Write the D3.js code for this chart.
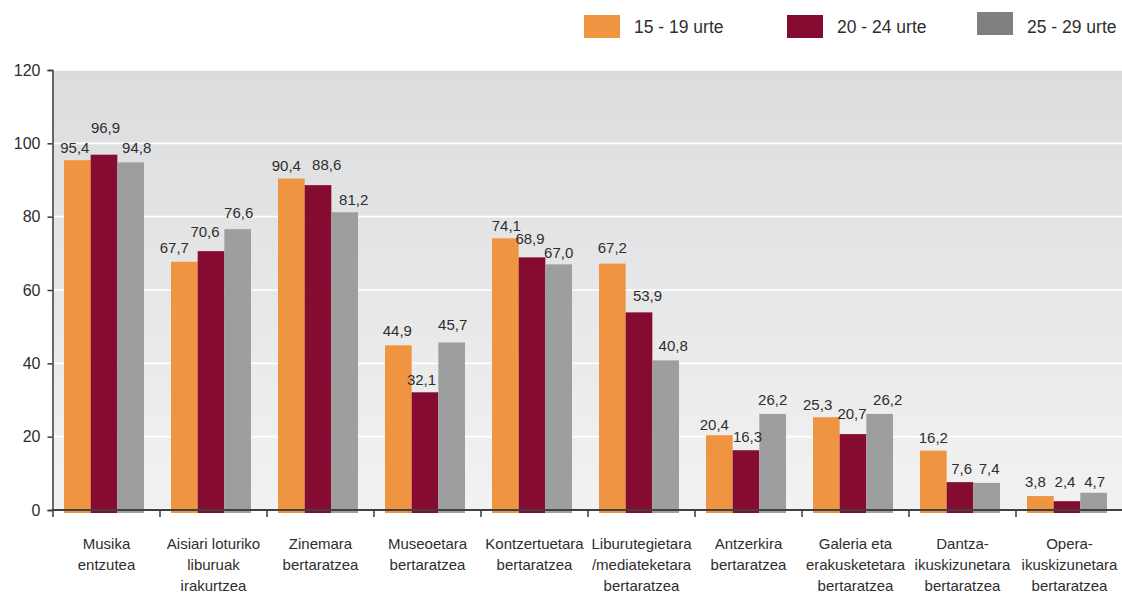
<!DOCTYPE html>
<html><head><meta charset="utf-8">
<script src="https://cdn.jsdelivr.net/npm/d3@7"></script>
<style>body{margin:0;background:#fff}svg{display:block;font-family:"Liberation Sans",Arial,sans-serif}</style>
</head><body><svg id="c" width="1122" height="594"></svg>
<script>
// ---- data ----
const categories = [
  "Musika\nentzutea",
  "Aisiari loturiko\nliburuak\nirakurtzea",
  "Zinemara\nbertaratzea",
  "Museoetara\nbertaratzea",
  "Kontzertuetara\nbertaratzea",
  "Liburutegietara\n/mediateketara\nbertaratzea",
  "Antzerkira\nbertaratzea",
  "Galeria eta\nerakusketetara\nbertaratzea",
  "Dantza-\nikuskizunetara\nbertaratzea",
  "Opera-\nikuskizunetara\nbertaratzea"
];
const seriesNames = ["15 - 19 urte", "20 - 24 urte", "25 - 29 urte"];
const values15_19 = [95.4, 67.7, 90.4, 44.9, 74.1, 67.2, 20.4, 25.3, 16.2, 3.8];
const values20_24 = [96.9, 70.6, 88.6, 32.1, 68.9, 53.9, 16.3, 20.7, 7.6, 2.4];
const values25_29 = [94.8, 76.6, 81.2, 45.7, 67.0, 40.8, 26.2, 26.2, 7.4, 4.7];
const yTicks = [0, 20, 40, 60, 80, 100, 120];

// ---- style / layout (not data) ----
const barColors = ["#ef9441", "#860b30", "#9d9ea0"];
const legendColors = ["#f09643", "#860b30", "#808080"];
const labelDx = [
  [-2.5, -10, -5, -1, 1, 0, -5, -8.7, 0, -5],
  [1.5, -6, 8.7, -3.5, -2, 8.5, 1.5, -1, 1.7, -2],
  [6, 1, 9, 1, 0, 7.5, 0, 8, 2.5, 1]
];
const labelLift = [
  [0, 2, 1, 2, 0, 4, -2, 0, 1, 2],
  [15, 7, 8, 0, 6, 4, 1, 8, 1, 7],
  [2, 4, 0, 5, -1, 2, 2, 2, 2, -1]
];

const allValues = [values15_19, values20_24, values25_29];
const svg = d3.select("#c");
const pLeft = 53, pRight = 1123, pTop = 70, pBottom = 510;

const x = d3.scaleBand().domain(categories).range([pLeft, pRight]).padding(0);
const inner = d3.scaleBand().domain(seriesNames).range([11, 91]).padding(0);
const y = d3.scaleLinear().domain([0, 120]).range([pBottom, pTop]);

// background gradient
const defs = svg.append("defs");
const grad = defs.append("linearGradient").attr("id", "bg").attr("x1", 0).attr("y1", 0).attr("x2", 0).attr("y2", 1);
grad.append("stop").attr("offset", "0%").attr("stop-color", "#dbdcde");
grad.append("stop").attr("offset", "100%").attr("stop-color", "#f2f2f2");
svg.append("rect").attr("x", pLeft).attr("y", pTop).attr("width", pRight - pLeft).attr("height", pBottom - pTop).attr("fill", "url(#bg)");

// gridlines
svg.append("g").selectAll("line").data(yTicks.filter(d => d > 0)).join("line")
  .attr("x1", pLeft).attr("x2", pRight).attr("y1", d => y(d)).attr("y2", d => y(d))
  .attr("stroke", "#ffffff").attr("stroke-width", 1.6);

// bars
const rows = [];
categories.forEach((c, i) => seriesNames.forEach((s, j) => rows.push({c, s, i, j, v: allValues[j][i]})));
svg.append("g").selectAll("rect").data(rows).join("rect")
  .attr("x", d => x(d.c) + inner(d.s))
  .attr("width", inner.bandwidth())
  .attr("y", d => y(d.v))
  .attr("height", d => y(0) - y(d.v) + 3)
  .attr("fill", d => barColors[d.j]);

// value labels
const fmt = v => d3.format(".1f")(v).replace(".", ",");
svg.append("g").selectAll("text").data(rows).join("text")
  .attr("x", d => x(d.c) + inner(d.s) + inner.bandwidth() / 2 + labelDx[d.j][d.i])
  .attr("y", d => y(d.v) - 7 - labelLift[d.j][d.i])
  .attr("text-anchor", "middle").attr("font-size", 15).attr("fill", "#2e2e2e")
  .text(d => fmt(d.v));

// y axis
const yAxis = svg.append("g").attr("transform", `translate(${pLeft - 0.5},0)`)
  .call(d3.axisLeft(y).tickValues(yTicks).tickSize(5).tickPadding(7).tickFormat(d3.format("d")));
yAxis.select(".domain").attr("stroke", "#3a3a3a").attr("stroke-width", 1.5);
yAxis.selectAll(".tick line").attr("stroke", "#3a3a3a").attr("stroke-width", 1.5);
yAxis.selectAll(".tick text").attr("font-size", 16).attr("fill", "#2e2e2e").attr("font-family", "Liberation Sans, Arial, sans-serif");

// x axis baseline and ticks
svg.append("line").attr("x1", pLeft - 1).attr("x2", pRight).attr("y1", y(0)).attr("y2", y(0))
  .attr("stroke", "#404040").attr("stroke-width", 2);
svg.append("g").selectAll("line").data(categories).join("line")
  .attr("x1", d => x(d)).attr("x2", d => x(d)).attr("y1", y(0)).attr("y2", y(0) + 7)
  .attr("stroke", "#3a3a3a").attr("stroke-width", 1.5);

// x labels
const xl = svg.append("g").selectAll("text").data(categories).join("text")
  .attr("x", d => x(d) + x.bandwidth() / 2)
  .attr("y", 549)
  .attr("text-anchor", "middle").attr("font-size", 15).attr("fill", "#2e2e2e");
xl.selectAll("tspan").data(d => d.split("\n")).join("tspan")
  .attr("x", function() { return d3.select(this.parentNode).attr("x"); })
  .attr("dy", (d, i) => i === 0 ? 0 : 21)
  .text(d => d);

// legend
const legendX = [584, 787, 977];
const legendY = [15, 15, 12];
const lg = svg.append("g").selectAll("g").data(seriesNames).join("g");
lg.append("rect").attr("x", (d, i) => legendX[i]).attr("y", (d, i) => legendY[i])
  .attr("width", 36).attr("height", 23).attr("fill", (d, i) => legendColors[i]);
lg.append("text").attr("x", (d, i) => legendX[i] + 50).attr("y", 33)
  .attr("font-size", 17.5).attr("fill", "#2e2e2e").text(d => d);
</script></body></html>
